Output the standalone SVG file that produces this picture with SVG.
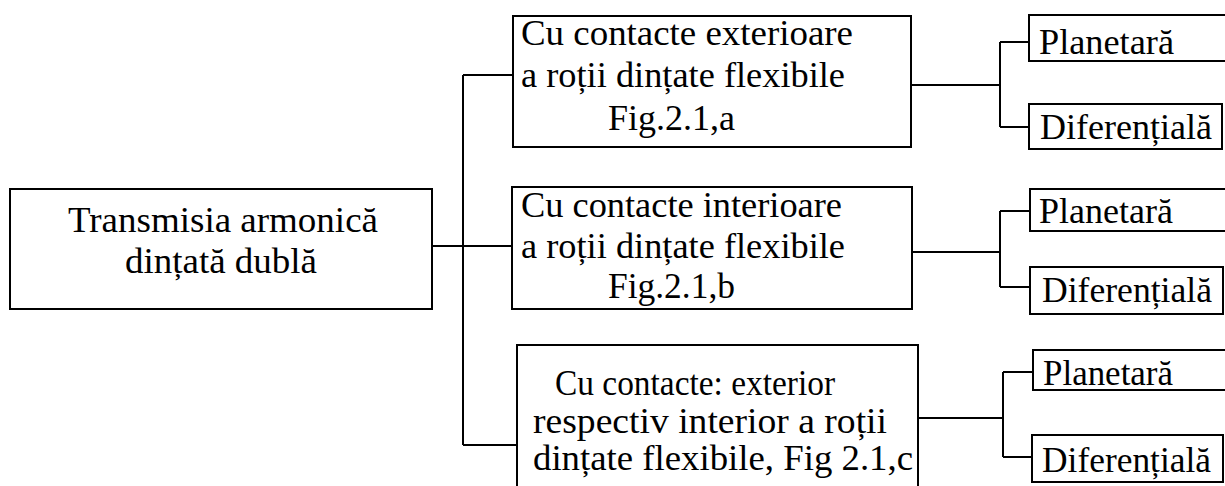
<svg xmlns="http://www.w3.org/2000/svg" width="1225" height="486" viewBox="0 0 1225 486">
  <style>
    .box { fill: #ffffff; stroke: #000000; stroke-width: 2; }
    .wire { fill: none; stroke: #000000; stroke-width: 2; }
    .lbl { font-family: "Liberation Serif", "Times New Roman", serif; font-size: 35px; fill: #000000; }
  </style>
  <rect x="0" y="0" width="1225" height="486" fill="#ffffff"/>

  <!-- connectors -->
  <g id="connectors">
    <path class="wire" d="M432 246 H512"/>
    <path class="wire" d="M463 75 V445"/>
    <path class="wire" d="M463 75 H513"/>
    <path class="wire" d="M463 445 H517"/>

    <path class="wire" d="M911 85 H1000"/>
    <path class="wire" d="M1000 42 V127"/>
    <path class="wire" d="M1000 42 H1029 M1000 127 H1029"/>

    <path class="wire" d="M912 252 H1000"/>
    <path class="wire" d="M1000 211 V287"/>
    <path class="wire" d="M1000 211 H1030 M1000 287 H1030"/>

    <path class="wire" d="M918 418 H1003"/>
    <path class="wire" d="M1003 372 V457"/>
    <path class="wire" d="M1003 372 H1033 M1003 457 H1032"/>
  </g>

  <!-- root -->
  <g id="root">
    <rect class="box" x="10" y="189" width="422" height="120"/>
    <text class="lbl" x="68" y="232" textLength="310" lengthAdjust="spacingAndGlyphs">Transmisia armonică</text>
    <text class="lbl" x="125" y="273" textLength="192" lengthAdjust="spacingAndGlyphs">dințată dublă</text>
  </g>

  <!-- external contact -->
  <g id="ext">
    <rect class="box" x="513" y="16" width="398" height="131"/>
    <text class="lbl" x="521" y="45" textLength="332" lengthAdjust="spacingAndGlyphs">Cu contacte exterioare</text>
    <text class="lbl" x="521" y="87" textLength="324" lengthAdjust="spacingAndGlyphs">a roții dințate flexibile</text>
    <text class="lbl" x="608" y="130" textLength="127" lengthAdjust="spacingAndGlyphs">Fig.2.1,a</text>
  </g>

  <!-- internal contact -->
  <g id="int">
    <rect class="box" x="512" y="187" width="400" height="122"/>
    <text class="lbl" x="521" y="217" textLength="321" lengthAdjust="spacingAndGlyphs">Cu contacte interioare</text>
    <text class="lbl" x="521" y="258" textLength="324" lengthAdjust="spacingAndGlyphs">a roții dințate flexibile</text>
    <text class="lbl" x="608" y="298" textLength="127" lengthAdjust="spacingAndGlyphs">Fig.2.1,b</text>
  </g>

  <!-- mixed contact -->
  <g id="mixed">
    <rect class="box" x="517" y="345" width="401" height="160"/>
    <text class="lbl" x="555" y="395" textLength="280" lengthAdjust="spacingAndGlyphs">Cu contacte: exterior</text>
    <text class="lbl" x="533" y="433" textLength="354" lengthAdjust="spacingAndGlyphs">respectiv interior a roții</text>
    <text class="lbl" x="533" y="470" textLength="380" lengthAdjust="spacingAndGlyphs">dințate flexibile, Fig 2.1,c</text>
  </g>

  <!-- leaves -->
  <g id="ext-planetara">
    <rect class="box" x="1029" y="15" width="210" height="46"/>
    <text class="lbl" x="1039" y="54" textLength="135" lengthAdjust="spacingAndGlyphs">Planetară</text>
  </g>
  <g id="ext-diferentiala">
    <rect class="box" x="1029" y="104" width="193" height="45"/>
    <text class="lbl" x="1040" y="139" textLength="172" lengthAdjust="spacingAndGlyphs">Diferențială</text>
  </g>
  <g id="int-planetara">
    <rect class="box" x="1030" y="189" width="210" height="42"/>
    <text class="lbl" x="1039" y="223" textLength="134" lengthAdjust="spacingAndGlyphs">Planetară</text>
  </g>
  <g id="int-diferentiala">
    <rect class="box" x="1030" y="267" width="193" height="47"/>
    <text class="lbl" x="1042" y="302" textLength="170" lengthAdjust="spacingAndGlyphs">Diferențială</text>
  </g>
  <g id="mixed-planetara">
    <rect class="box" x="1033" y="350" width="210" height="40"/>
    <text class="lbl" x="1043" y="385" textLength="130" lengthAdjust="spacingAndGlyphs">Planetară</text>
  </g>
  <g id="mixed-diferentiala">
    <rect class="box" x="1032" y="435" width="191" height="47"/>
    <text class="lbl" x="1042" y="472" textLength="169" lengthAdjust="spacingAndGlyphs">Diferențială</text>
  </g>
</svg>
